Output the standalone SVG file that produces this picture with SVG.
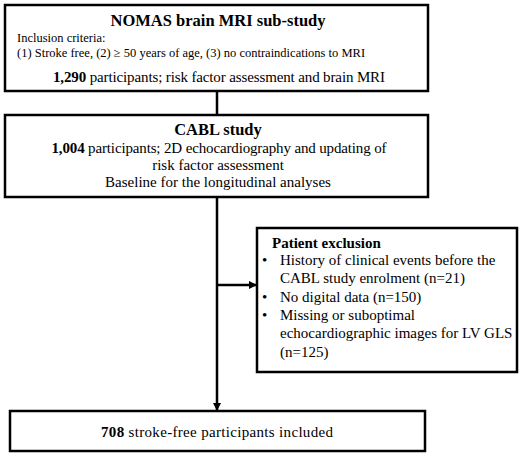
<svg xmlns="http://www.w3.org/2000/svg" width="520" height="456" viewBox="0 0 520 456">
<defs>
<marker id="ah" markerWidth="8" markerHeight="8" refX="7" refY="4" orient="auto" markerUnits="userSpaceOnUse">
<path d="M0,0 L8,4 L0,8 z" fill="#000"/>
</marker>
<style>
.box{fill:#fff;stroke:#000;stroke-width:2.5}
text{fill:#000}
.t{font-size:16.5px;font-weight:bold}
.s{font-size:12.5px}
.m{font-size:15px}
.b{font-weight:bold}
.c{text-anchor:middle}
.ln{stroke:#000;stroke-width:2.5;fill:none}
</style>
</defs>
<rect width="520" height="456" fill="#fff"/>
<g id="connectors">
<line class="ln" x1="217" y1="91" x2="217" y2="115"/>
<line class="ln" x1="217" y1="197" x2="217" y2="410" marker-end="url(#ah)"/>
<line class="ln" x1="217" y1="285" x2="256" y2="285" marker-end="url(#ah)"/>
</g>
<g font-family="'Liberation Serif', 'DejaVu Serif', serif">
<g id="nomas">
<rect class="box" x="5" y="5" width="423" height="86"/>
<text class="t c" x="218" y="26">NOMAS brain MRI sub-study</text>
<text class="s" x="17" y="42">Inclusion criteria:</text>
<text class="s" x="17" y="57">(1) Stroke free, (2) ≥ 50 years of age, (3) no contraindications to MRI</text>
<text class="m c" x="219" y="82" textLength="332" lengthAdjust="spacing"><tspan class="b">1,290</tspan> participants;  risk factor assessment and brain MRI</text>
</g>
<g id="cabl">
<rect class="box" x="5" y="115" width="423" height="82"/>
<text class="t c" x="218" y="135">CABL study</text>
<text class="m c" x="219" y="153" textLength="335" lengthAdjust="spacing"><tspan class="b">1,004</tspan> participants;  2D echocardiography and updating of</text>
<text class="m c" x="218" y="170">risk factor assessment</text>
<text class="m c" x="218" y="187">Baseline for the longitudinal analyses</text>
</g>
<g id="exclusion">
<rect class="box" x="257" y="228" width="260" height="144"/>
<text class="m b" x="272" y="248">Patient exclusion</text>
<text class="m" x="262" y="265">•</text>
<text class="m" x="280" y="265">History of clinical events before the</text>
<text class="m" x="280" y="283">CABL study enrolment (n=21)</text>
<text class="m" x="262" y="302">•</text>
<text class="m" x="280" y="302">No digital data (n=150)</text>
<text class="m" x="262" y="320">•</text>
<text class="m" x="280" y="320">Missing or suboptimal</text>
<text class="m" x="280" y="338">echocardiographic images for LV GLS</text>
<text class="m" x="280" y="357">(n=125)</text>
</g>
<g id="included">
<rect class="box" x="10" y="411" width="415" height="40"/>
<text class="m c" x="217" y="437" textLength="232" lengthAdjust="spacing"><tspan class="b">708</tspan> stroke-free participants included</text>
</g>
</g>
</svg>
